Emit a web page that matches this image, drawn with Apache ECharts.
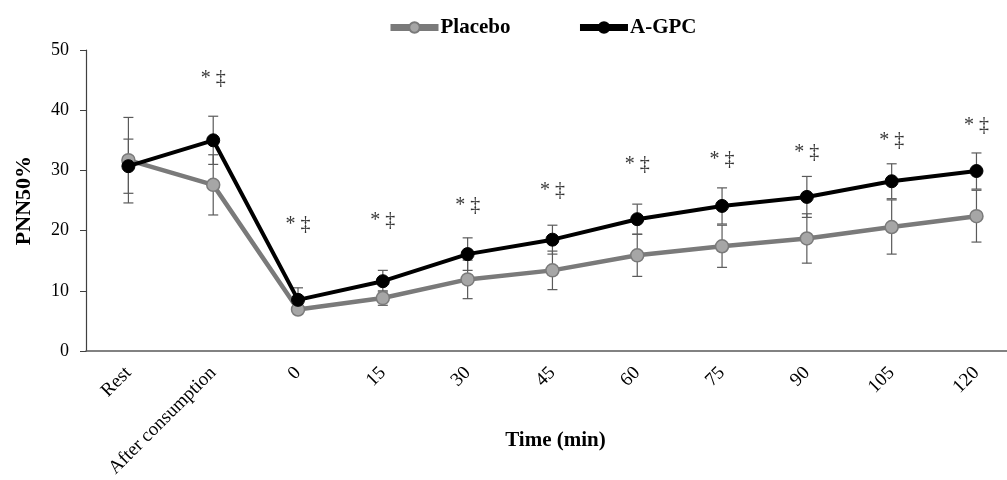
<!DOCTYPE html>
<html>
<head>
<meta charset="utf-8">
<script src="https://cdn.jsdelivr.net/npm/echarts@6/dist/echarts.min.js"></script>
<style>
  html, body { margin: 0; padding: 0; background: #fff; }
  #chart { width: 1007px; height: 480px; }
</style>
</head>
<body>
<div id="chart"></div>
<script>
// categories on the x axis
var categories = ['Rest', 'After consumption', '0', '15', '30', '45', '60', '75', '90', '105', '120'];
var yTicks = [0, 10, 20, 30, 40, 50];

// series means and error (+/-)
var placeboMean = [31.7, 27.6, 6.9, 8.8, 11.9, 13.4, 15.9, 17.4, 18.7, 20.6, 22.4];
var placeboErr  = [7.1, 5.0, 0.8, 1.2, 3.2, 3.2, 3.5, 3.5, 4.1, 4.5, 4.3];
var agpcMean    = [30.7, 35.0, 8.5, 11.6, 16.1, 18.5, 21.9, 24.1, 25.6, 28.2, 29.9];
var agpcErr     = [4.5, 4.0, 2.0, 1.8, 2.7, 2.4, 2.5, 3.0, 3.4, 2.9, 3.0];

// significance marks (*‡) and the height they sit at
var markText = ['', '* ‡', '* ‡', '* ‡', '* ‡', '* ‡', '* ‡', '* ‡', '* ‡', '* ‡', '* ‡'];
var markY    = [null, 45.2, 20.9, 21.6, 24.1, 26.7, 30.9, 31.7, 33.0, 35.0, 37.5];

var serif = '"Liberation Serif", "DejaVu Serif", serif';

// category index positions, used as x values
var xIdx = [];
for (var k = 0; k < categories.length; k++) xIdx.push(k);

function pairs(vals) {
  var out = [];
  for (var i = 0; i < vals.length; i++) out.push([i, vals[i]]);
  return out;
}

function errData(mean, err) {
  var out = [];
  for (var i = 0; i < mean.length; i++) {
    out.push([i, mean[i] - err[i], mean[i] + err[i]]);
  }
  return out;
}

function errRender(params, api) {
  var x = api.value(0);
  var lo = api.coord([x, api.value(1)]);
  var hi = api.coord([x, api.value(2)]);
  var w = 5;
  var style = { stroke: '#5a5a5a', lineWidth: 1.2 };
  return {
    type: 'group',
    children: [
      { type: 'line', shape: { x1: hi[0], y1: hi[1], x2: lo[0], y2: lo[1] }, style: style },
      { type: 'line', shape: { x1: hi[0] - w, y1: hi[1], x2: hi[0] + w, y2: hi[1] }, style: style },
      { type: 'line', shape: { x1: lo[0] - w, y1: lo[1], x2: lo[0] + w, y2: lo[1] }, style: style }
    ]
  };
}

var marks = [];
for (var i = 0; i < categories.length; i++) {
  if (markY[i] != null) marks.push({ value: [i, markY[i]], name: markText[i] });
}

var chart = echarts.init(document.getElementById('chart'));
var option = {
  animation: false,
  textStyle: { fontFamily: serif },
  legend: {
    data: ['Placebo', 'A-GPC'],
    top: 12,
    left: 382,
    itemWidth: 48,
    itemHeight: 13,
    itemGap: 66,
    lineStyle: { width: 7 },
    textStyle: { fontFamily: serif, fontWeight: 'bold', fontSize: 21, color: '#000', padding: [0, 0, 0, -3] }
  },
  grid: { left: 86, top: 50, bottom: 128, right: 0, containLabel: false },
  xAxis: {
    type: 'value',
    min: -0.5,
    max: 10.36,
    name: 'Time (min)',
    nameLocation: 'middle',
    nameGap: 79,
    nameMoveOverlap: false,
    nameTextStyle: { fontFamily: serif, fontWeight: 'bold', fontSize: 21, color: '#000', padding: [0, 0, 0, 18] },
    axisLine: { show: true, onZero: false, lineStyle: { color: '#595959', width: 1.5 } },
    axisTick: { show: false },
    splitLine: { show: false },
    axisLabel: {
      customValues: xIdx,
      rotate: 45,
      fontFamily: serif,
      fontSize: 19,
      color: '#000',
      margin: 19,
      formatter: function (v) { return categories[Math.round(v)] || ''; }
    }
  },
  yAxis: {
    type: 'value',
    min: 0,
    max: 50,
    interval: 10,
    name: 'PNN50%',
    nameLocation: 'middle',
    nameGap: 51,
    nameMoveOverlap: false,
    nameTextStyle: { fontFamily: serif, fontWeight: 'bold', fontSize: 22, color: '#000' },
    axisLine: { show: true, onZero: false, lineStyle: { color: '#404040', width: 1.2 } },
    axisTick: { show: true, length: 6, lineStyle: { color: '#404040' } },
    splitLine: { show: false },
    axisLabel: {
      fontFamily: serif,
      fontSize: 18,
      color: '#000',
      margin: 17,
      formatter: function (v) { return yTicks.indexOf(v) >= 0 ? String(v) : ''; }
    }
  },
  series: [
    {
      name: 'err-placebo',
      type: 'custom',
      renderItem: errRender,
      data: errData(placeboMean, placeboErr),
      z: 1,
      silent: true
    },
    {
      name: 'err-agpc',
      type: 'custom',
      renderItem: errRender,
      data: errData(agpcMean, agpcErr),
      z: 1,
      silent: true
    },
    {
      name: 'Placebo',
      type: 'line',
      data: pairs(placeboMean),
      symbol: 'circle',
      symbolSize: 13,
      lineStyle: { color: '#7a7a7a', width: 4.5 },
      itemStyle: { color: '#a6a6a6', borderColor: '#7a7a7a', borderWidth: 1.5 },
      z: 3
    },
    {
      name: 'A-GPC',
      type: 'line',
      data: pairs(agpcMean),
      symbol: 'circle',
      symbolSize: 13,
      lineStyle: { color: '#000', width: 4 },
      itemStyle: { color: '#000', borderColor: '#000', borderWidth: 1 },
      z: 4
    },
    {
      name: 'marks',
      type: 'scatter',
      data: marks,
      symbolSize: 0,
      silent: true,
      label: {
        show: true,
        position: 'inside',
        formatter: function (p) { return p.name; },
        fontFamily: serif,
        fontSize: 20,
        color: '#000'
      },
      z: 5
    }
  ]
};
chart.setOption(option);
</script>
</body>
</html>
